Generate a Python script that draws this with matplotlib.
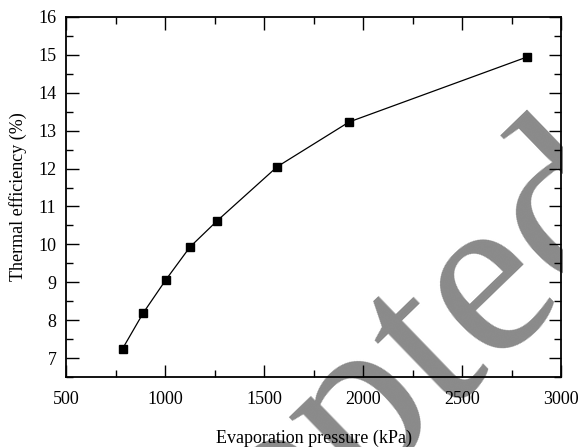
import numpy as np
import matplotlib
matplotlib.use('Agg')
from matplotlib import pyplot as plt
from matplotlib.ticker import MultipleLocator
from matplotlib.transforms import Bbox

# Datos
presion_kpa = [786, 890, 1005, 1126, 1263, 1567, 1930, 2826]
eficiencia = [7.25, 8.19, 9.07, 9.93, 10.62, 12.05, 13.23, 14.94]

plt.rcParams['font.family'] = ['Liberation Serif', 'DejaVu Serif']

fig = plt.figure(figsize=(5.81, 4.47), dpi=100)
ax = fig.add_axes([0.1136, 0.1566, 0.852, 0.8054])

# Marca de agua (recortada en el borde derecho del grafico)
marca = fig.text(0.505, -0.079, 'Accepted', fontsize=170, color='#8a8a8a',
                 rotation=44, ha='center', va='center', rotation_mode='anchor', zorder=0)
marca.set_clip_box(Bbox.from_extents(0, 0, 563, 447))
ax.set_facecolor('none')
ax.set_zorder(2)

ax.plot(presion_kpa, eficiencia, color='black', linewidth=0.9,
        marker='s', markersize=5.5, markerfacecolor='black', markeredgecolor='black')

ax.set_xlim(500, 3000)
ax.set_ylim(6.5, 16)
ax.xaxis.set_major_locator(MultipleLocator(500))
ax.xaxis.set_minor_locator(MultipleLocator(250))
ax.yaxis.set_major_locator(MultipleLocator(1))
ax.yaxis.set_minor_locator(MultipleLocator(0.5))

ax.tick_params(which='both', direction='in', top=True, right=True, labelsize=13, width=1.0)
ax.tick_params(which='major', length=9, pad=7)
ax.tick_params(which='minor', length=5)
ax.tick_params(axis='x', which='major', pad=10)
for s in ax.spines.values():
    s.set_linewidth(1.3)

ax.set_xlabel('Evaporation pressure (kPa)', fontsize=13, labelpad=16)
ax.set_ylabel('Thermal efficiency (%)', fontsize=13, labelpad=8)

fig.savefig('out.png', dpi=100)
